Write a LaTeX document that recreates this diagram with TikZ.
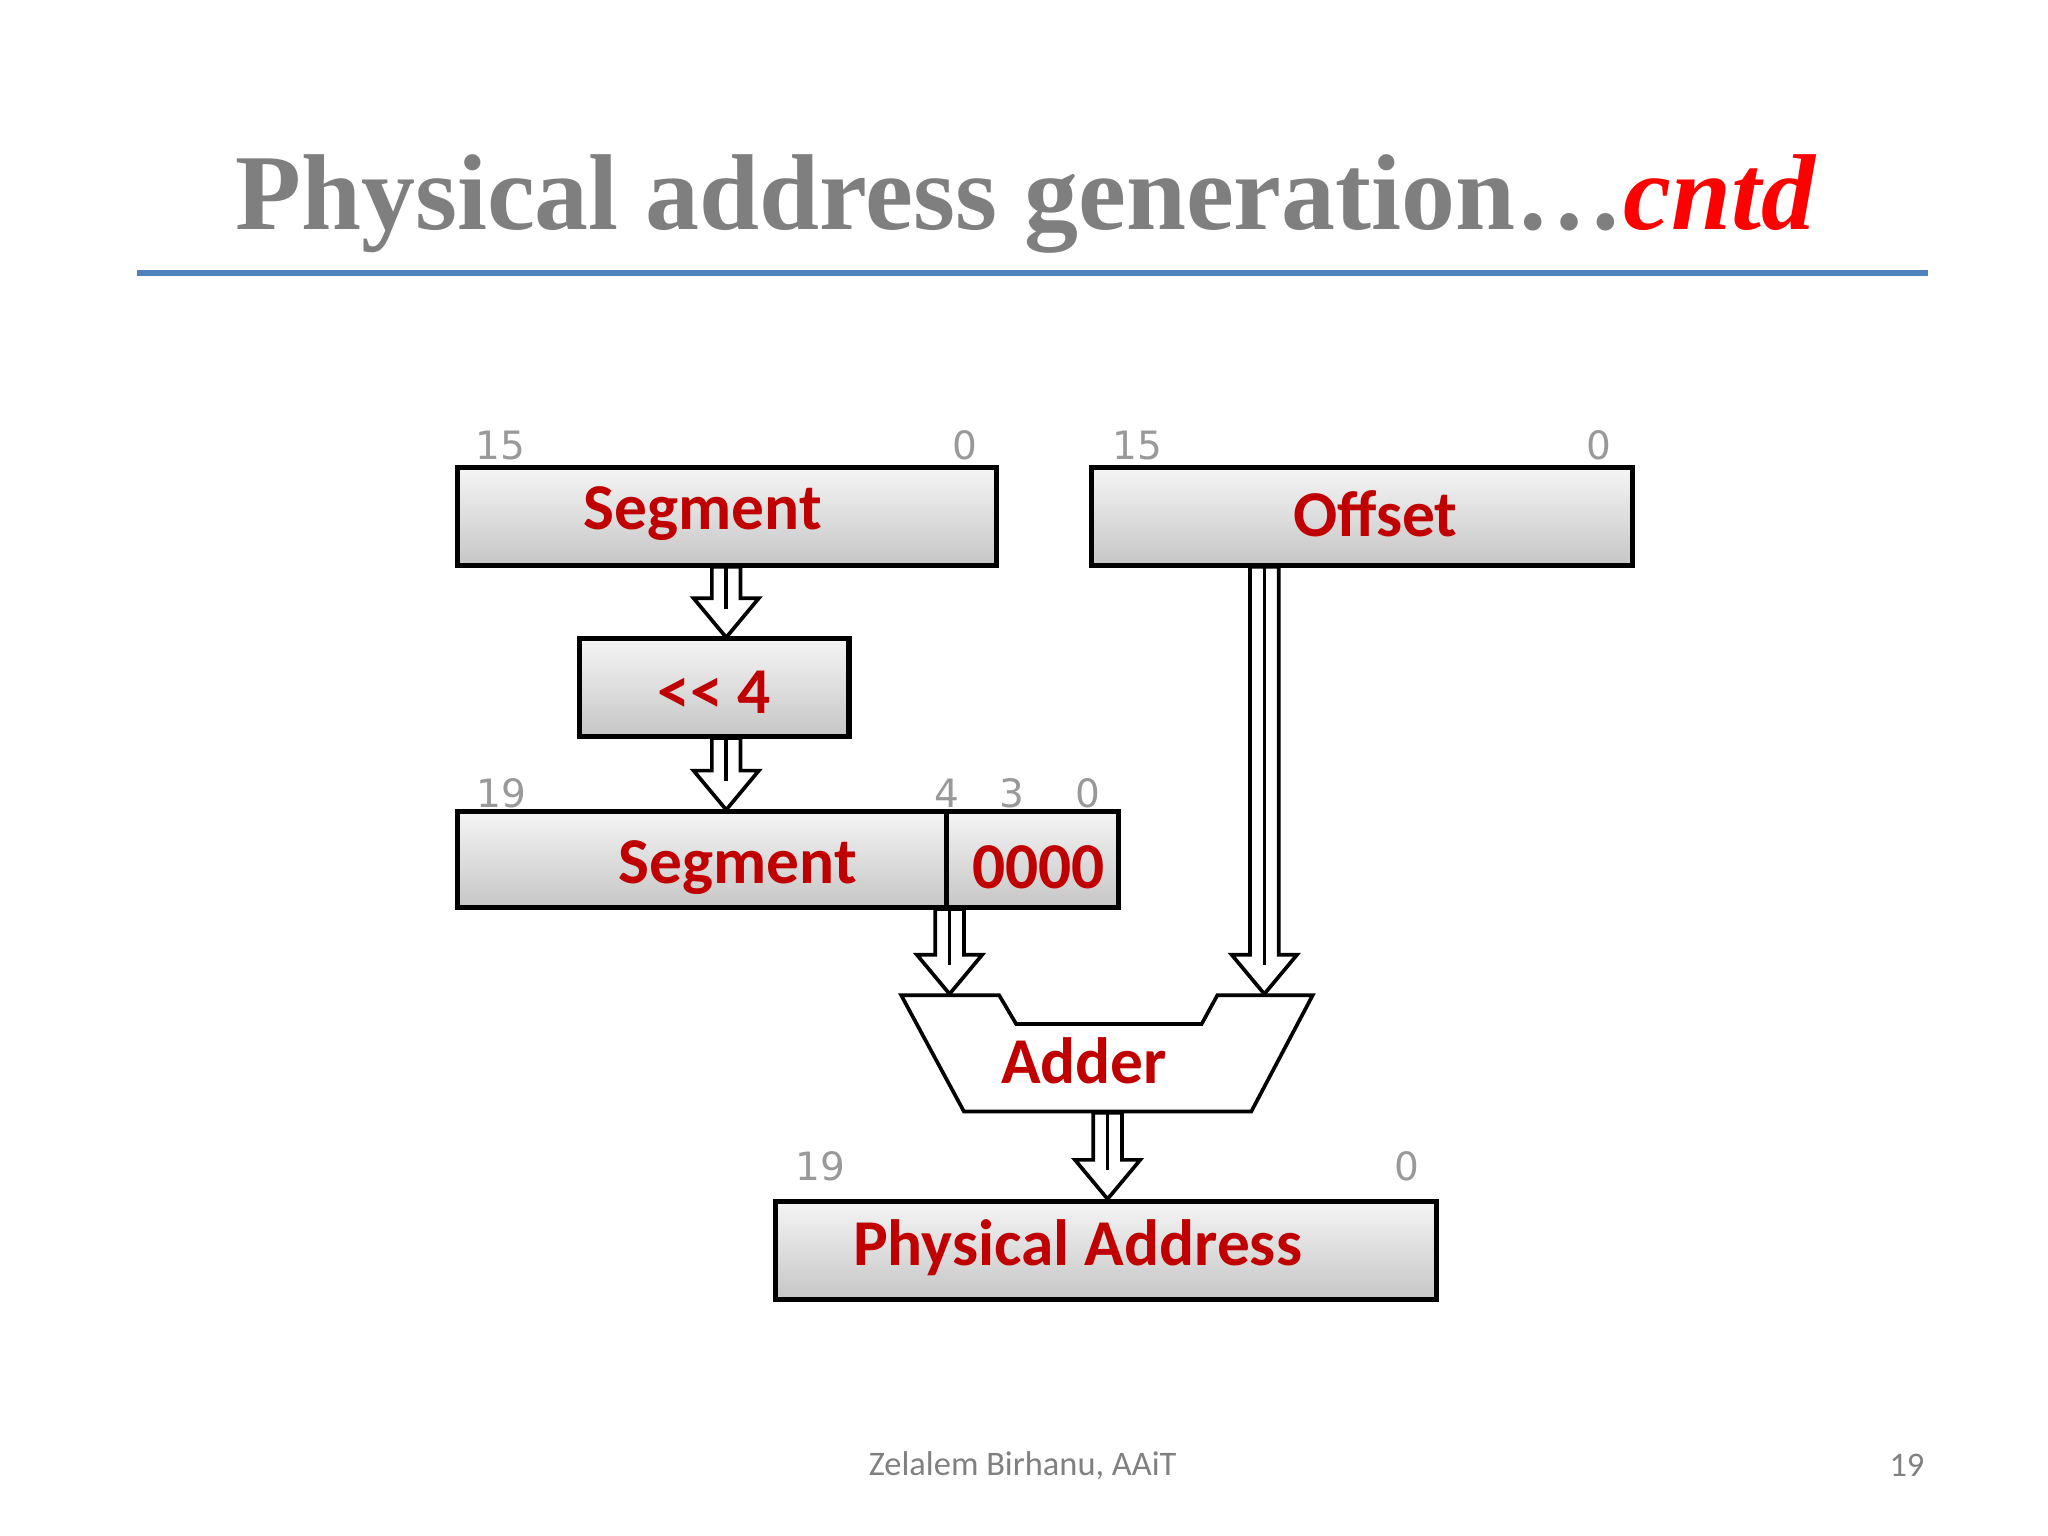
\documentclass[tikz,border=0pt]{standalone}
\usepackage{fontspec}
\setmainfont{Carlito}
\newfontfamily\titlefont{Liberation Serif}
\newfontfamily\numfont{DejaVu Sans}
\usetikzlibrary{calc}
\definecolor{boxred}{HTML}{C00000}
\definecolor{titlegray}{HTML}{7F7F7F}
\definecolor{rulecol}{HTML}{4F81BD}
\tikzset{
 reg/.style={draw=black,line width=2.2pt,top color=gray!8,bottom color=gray!45},
 regtext/.style={text=boxred,font=\bfseries\fontsize{28.5}{32}\selectfont},
 bitlbl/.style={text=gray!80,font=\numfont\fontsize{17}{20}\selectfont},
 hollow/.style={draw=black,line width=1.6pt,fill=white}
}
\newcommand{\hollowarrow}[3]{% x, ytop, ybot
 \filldraw[hollow] (#1-11,#2) -- (#1-11,#3-30) -- (#1-25,#3-30) -- (#1,#3) -- (#1+25,#3-30) -- (#1+11,#3-30) -- (#1+11,#2) -- cycle;
 \draw[line width=1.6pt] (#1,#2) -- (#1,#3-22);}
\begin{document}
\begin{tikzpicture}[x=0.02cm,y=-0.02cm]
\useasboundingbox (0,0) rectangle (1568,1176);
\fill[white] (0,0) rectangle (1568,1176);
\node[font=\titlefont\bfseries\fontsize{47}{52}\selectfont,text=titlegray,anchor=base] (title) at (785,176) {Physical address generation\ldots{\color{red}\itshape cntd}};
\draw[rulecol,line width=3pt] (105,209) -- (1476,209);
% boxes
\path[reg] (350,358) rectangle (763,433);
\node[regtext] (segt) at (538,393) {Segment};
\path[reg] (836,358) rectangle (1250,433);
\node[regtext] (offt) at (1053,393) {Offset};
\path[reg] (444,489) rectangle (650,564);
\node[regtext] (shf) at (547,530) {{<}{<} 4};
\path[reg] (350,621) rectangle (725,695);
\path[reg] (725,621) rectangle (856,695);
\node[regtext] (seg2) at (565,664) {Segment};
\node[regtext] (zero) at (795,664) {0000};
\path[reg] (594,920) rectangle (1100,995);
\node[regtext] (pa) at (825,955) {Physical Address};
% adder
\draw[line width=1.6pt,fill=white] (690,762) -- (765,762) -- (778,784) -- (920,784) -- (932,762) -- (1005,762) -- (958,851) -- (738,851) -- cycle;
\node[regtext] (adder) at (830,812) {Adder};
% labels
\node[bitlbl] (l1) at (383,341) {15};
\node[bitlbl] (l2) at (739,341) {0};
\node[bitlbl] (l3) at (871,341) {15};
\node[bitlbl] (l4) at (1224,341) {0};
\node[bitlbl] (l5) at (384,607) {19};
\node[bitlbl] (l6) at (725,607) {4};
\node[bitlbl] (l7) at (775,607) {3};
\node[bitlbl] (l8) at (833,607) {0};
\node[bitlbl] (l9) at (628,893) {19};
\node[bitlbl] (l10) at (1077,893) {0};
% arrows
\hollowarrow{556}{434}{488}
\hollowarrow{556}{565}{620}
\hollowarrow{727}{696}{761}
\hollowarrow{968}{434}{761}
\hollowarrow{848}{852}{918}
% footer
\node[text=gray,font=\fontsize{15}{18}\selectfont] (foot) at (783,1122) {Zelalem Birhanu, AAiT};
\node[text=gray,font=\fontsize{15}{18}\selectfont] (pg) at (1460,1122) {19};
\end{tikzpicture}
\end{document}
